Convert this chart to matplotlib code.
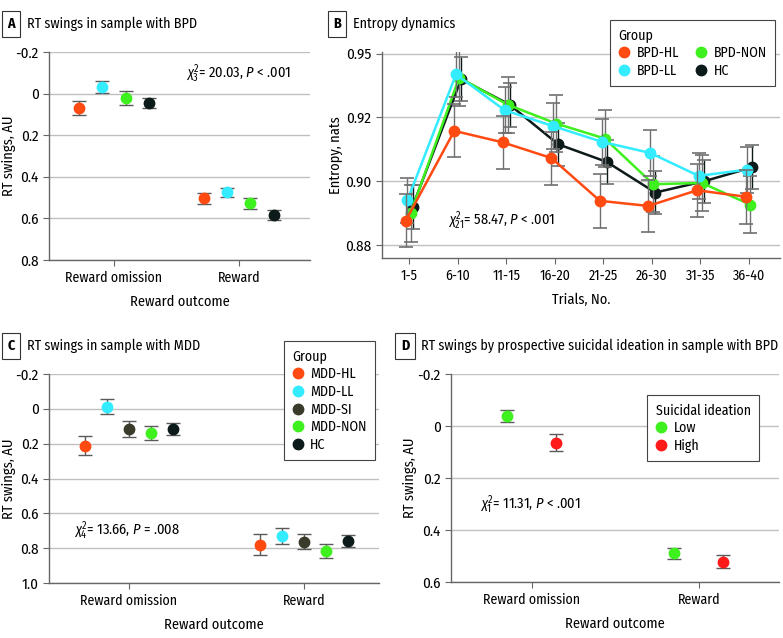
import matplotlib
matplotlib.use("Agg")
import matplotlib.pyplot as plt
import numpy as np

FONT = ['Fira Sans Condensed', 'Roboto Condensed', 'Archivo Narrow', 'DejaVu Sans']
plt.rcParams['font.family'] = FONT
plt.rcParams['mathtext.fontset'] = 'custom'
plt.rcParams['mathtext.rm'] = 'Fira Sans Condensed'
plt.rcParams['mathtext.it'] = 'Fira Sans Condensed:italic'

TICK_FS = 10
LABEL_FS = 10.4
TITLE_FS = 10.1
LEG_FS = 10

# --- Data ---
outcomes = ['Reward omission', 'Reward']

# Panel A: BPD sample
a_groups = ['BPD-HL', 'BPD-LL', 'BPD-NON', 'HC']
a_omission = [0.069, -0.032, 0.021, 0.045]
a_omission_se = [0.034, 0.027, 0.034, 0.024]
a_reward = [0.504, 0.475, 0.528, 0.584]
a_reward_se = [0.028, 0.023, 0.028, 0.022]

# Panel B: entropy dynamics
trials = ['1-5', '6-10', '11-15', '16-20', '21-25', '26-30', '31-35', '36-40']
ent_hl = [0.8877, 0.9158, 0.9122, 0.9073, 0.8939, 0.8923, 0.8972, 0.8952]
ent_hl_se = [0.0084, 0.0083, 0.0084, 0.0083, 0.0084, 0.0082, 0.0083, 0.0084]
ent_ll = [0.8941, 0.9335, 0.9223, 0.9173, 0.9124, 0.9089, 0.9017, 0.9037]
ent_ll_se = [0.0071, 0.0072, 0.0072, 0.0071, 0.0072, 0.0072, 0.0072, 0.0072]
ent_non = [0.8900, 0.9325, 0.9240, 0.9181, 0.9134, 0.8991, 0.8995, 0.8927]
ent_non_se = [0.0089, 0.0088, 0.0088, 0.0088, 0.0089, 0.0088, 0.0088, 0.0089]
ent_hc = [0.8921, 0.9320, 0.9240, 0.9116, 0.9061, 0.8965, 0.9000, 0.9044]
ent_hc_se = [0.0069, 0.0068, 0.0069, 0.0068, 0.0068, 0.0068, 0.0068, 0.0069]

# Panel C: MDD sample
c_groups = ['MDD-HL', 'MDD-LL', 'MDD-SI', 'MDD-NON', 'HC']
c_omission = [0.211, -0.013, 0.115, 0.138, 0.117]
c_omission_se = [0.054, 0.045, 0.044, 0.041, 0.035]
c_reward = [0.779, 0.729, 0.763, 0.815, 0.759]
c_reward_se = [0.062, 0.045, 0.043, 0.041, 0.033]

# Panel D: prospective suicidal ideation
d_groups = ['Low', 'High']
d_omission = [-0.038, 0.064]
d_omission_se = [0.023, 0.032]
d_reward = [0.490, 0.522]
d_reward_se = [0.020, 0.026]

ORANGE = '#ff4a12'
CYAN = '#33ecff'
GREEN = '#3ef01e'
BLACK = '#0d1a1a'
OLIVE = '#3b3b2c'
RED = '#ff1a1a'
GRID = '#c0c0c0'
SPINE = '#666666'
EBAR = '#5a5a5a'

W, H = 783, 638
fig = plt.figure(figsize=(W / 100, H / 100), dpi=100)


def add_ax(left, right, top, bottom):
    return fig.add_axes([left / W, 1 - bottom / H, (right - left) / W, (bottom - top) / H])


def style(ax, ylab_px):
    for s in ['top', 'right']:
        ax.spines[s].set_visible(False)
    for s in ['left', 'bottom']:
        ax.spines[s].set_color(SPINE)
        ax.spines[s].set_linewidth(1.0)
    ax.tick_params(colors=SPINE, labelcolor='black', labelsize=TICK_FS, length=4)
    ax.tick_params(axis='y', labelsize=TICK_FS + 0.8)
    ax.yaxis.grid(True, color=GRID, lw=1.0)
    ax.set_axisbelow(True)
    # place y label centre at a fixed pixel column
    bb = ax.get_position()
    ax.yaxis.set_label_coords((ylab_px / W - bb.x0) / bb.width, 0.5)


def panel_title(x, y, letter, text):
    fig.text((x + 9) / W, 1 - y / H, letter, fontsize=TITLE_FS, fontweight='bold', va='center', ha='center',
             bbox=dict(boxstyle='square,pad=0.4', fc='white', ec='#333333', lw=0.8))
    fig.text((x + 25) / W, 1 - y / H, text, fontsize=TITLE_FS, va='center', ha='left')


def dot_panel(ax, omission, omission_se, reward, reward_se, colors, offsets, labels):
    for i in range(len(colors)):
        xs = [0 + offsets[i], 1 + offsets[i]]
        ys = [omission[i], reward[i]]
        es = [omission_se[i], reward_se[i]]
        ax.errorbar(xs, ys, yerr=es, fmt='none', ecolor=EBAR, elinewidth=1.0, capsize=5, capthick=1.0, zorder=2)
        ax.plot(xs, ys, 'o', color=colors[i], ms=7.5, ls='none', label=labels[i], zorder=3)
    ax.set_xticks([0, 1])
    ax.set_xticklabels(outcomes)
    ax.set_xlabel('Reward outcome', fontsize=LABEL_FS, labelpad=7)
    ax.set_ylabel('RT swings, AU', fontsize=LABEL_FS, va='center')


def legend_style(leg):
    leg.get_frame().set_linewidth(0.8)


leg_kw = dict(alignment='left', fontsize=LEG_FS, title_fontsize=LEG_FS, fancybox=False,
              edgecolor='#444444', framealpha=1, handlelength=0.8, handletextpad=0.5,
              borderpad=0.6, labelspacing=0.25)

# --- Panel A ---
axA = add_ax(49, 310, 52, 260)
style(axA, 9)
dot_panel(axA, a_omission, a_omission_se, a_reward, a_reward_se,
          [ORANGE, CYAN, GREEN, BLACK], [-0.28, -0.093, 0.093, 0.28], a_groups)
axA.set_xlim(-0.52, 1.57)
axA.set_ylim(0.8, -0.2)
axA.set_yticks([-0.2, 0, 0.2, 0.4, 0.6, 0.8])
axA.set_yticklabels(['-0.2', '0', '0.2', '0.4', '0.6', '0.8'])
axA.text(0.58, -0.096, r'$\chi^2_3$= 20.03, $P$ < .001', fontsize=LABEL_FS, va='center')
panel_title(2, 24, 'A', 'RT swings in sample with BPD')

# --- Panel B ---
axB = add_ax(382, 780, 52, 258)
style(axB, 336)
xb = np.arange(len(trials))
b_series = [
    ('BPD-HL', ent_hl, ent_hl_se, ORANGE, -0.07, 5),
    ('BPD-LL', ent_ll, ent_ll_se, CYAN, -0.035, 4),
    ('BPD-NON', ent_non, ent_non_se, GREEN, 0.03, 3),
    ('HC', ent_hc, ent_hc_se, BLACK, 0.07, 2),
]
handles = {}
for name, vals, se, col, off, z in b_series:
    line, caps, bars = axB.errorbar(xb + off, vals, yerr=se, fmt='none', ecolor='#707070',
                                    elinewidth=1.0, capsize=5, capthick=1.2, zorder=z)
    for c in caps:
        c.set_color(col)
    if name == 'HC':
        for b in bars:
            b.set_color(BLACK)
    h, = axB.plot(xb + off, vals, '-o', color=col, lw=1.8, ms=7.5, zorder=z + 0.5, label=name)
    handles[name] = h
axB.set_xticks(xb)
axB.set_xticklabels(trials)
axB.set_xlim(-0.56, 7.64)
axB.set_ylim(0.876, 0.9405)
axB.set_yticks([0.88, 0.90, 0.92, 0.94])
axB.set_yticklabels(['0.88', '0.90', '0.92', '0.95'])
axB.set_xlabel('Trials, No.', fontsize=LABEL_FS, labelpad=7)
axB.set_ylabel('Entropy, nats', fontsize=LABEL_FS, va='center')
axB.text(0.8, 0.8877, r'$\chi^2_{21}$= 58.47, $P$ < .001', fontsize=LABEL_FS, va='center')
legB = fig.legend([handles['BPD-HL'], handles['BPD-LL'], handles['BPD-NON'], handles['HC']],
                  ['BPD-HL', 'BPD-LL', 'BPD-NON', 'HC'], ncol=2, title='Group',
                  loc='upper right', bbox_to_anchor=(782 / W, 1 - 13 / H), columnspacing=1.2, **leg_kw)
for h in legB.legend_handles:
    h.set_linestyle('none')
legend_style(legB)
panel_title(328, 24, 'B', 'Entropy dynamics')

# --- Panel C ---
axC = add_ax(49, 379, 374, 583)
style(axC, 9)
dot_panel(axC, c_omission, c_omission_se, c_reward, c_reward_se,
          [ORANGE, CYAN, OLIVE, GREEN, BLACK], [-0.25, -0.125, 0, 0.125, 0.25], c_groups)
axC.set_xlim(-0.458, 1.43)
axC.set_ylim(1.0, -0.2)
axC.set_yticks([-0.2, 0, 0.2, 0.4, 0.6, 0.8, 1.0])
axC.set_yticklabels(['-0.2', '0', '0.2', '0.4', '0.6', '0.8', '1.0'])
axC.text(-0.317, 0.70, r'$\chi^2_4$= 13.66, $P$ = .008', fontsize=LABEL_FS, va='center')
legC = axC.legend(title='Group', loc='upper right', bbox_to_anchor=(382 / W, 1 - 334 / H),
                  bbox_transform=fig.transFigure, **leg_kw)
legend_style(legC)
panel_title(2, 346, 'C', 'RT swings in sample with MDD')

# --- Panel D ---
axD = add_ax(451, 779, 374, 582)
style(axD, 410)
dot_panel(axD, d_omission, d_omission_se, d_reward, d_reward_se,
          [GREEN, RED], [-0.148, 0.142], d_groups)
axD.set_xlim(-0.483, 1.477)
axD.set_ylim(0.6, -0.2)
axD.set_yticks([-0.2, 0, 0.2, 0.4, 0.6])
axD.set_yticklabels(['-0.2', '0', '0.2', '0.4', '0.6'])
axD.text(-0.31, 0.302, r'$\chi^2_1$= 11.31, $P$ < .001', fontsize=LABEL_FS, va='center')
legD = axD.legend(title='Suicidal ideation', loc='upper right', bbox_to_anchor=(766 / W, 1 - 388 / H),
                  bbox_transform=fig.transFigure, **leg_kw)
legend_style(legD)
panel_title(396, 346, 'D', 'RT swings by prospective suicidal ideation in sample with BPD')

fig.savefig('out.png', dpi=100, facecolor='white')
